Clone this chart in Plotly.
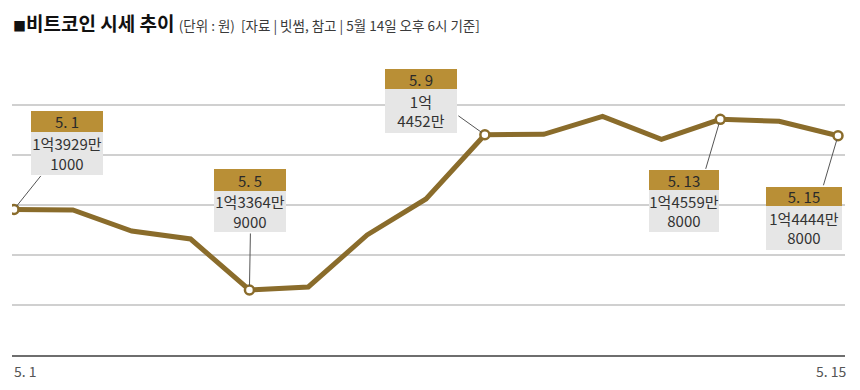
import plotly.graph_objects as go

# ---- data ----
dates = ["5. 1", "5. 2", "5. 3", "5. 4", "5. 5", "5. 6", "5. 7", "5. 8",
         "5. 9", "5. 10", "5. 11", "5. 12", "5. 13", "5. 14", "5. 15"]
prices = [139291000, 139250000, 137780000, 137220000, 133649000, 133860000,
          137500000, 140020000, 144520000, 144550000, 145800000, 144200000,
          145598000, 145460000, 144448000]
labeled = ["5. 1", "5. 5", "5. 9", "5. 13", "5. 15"]
axis_labels = ["5. 1", "5. 15"]

title = "비트코인 시세 추이"
subtitle = "(단위 : 원)  [자료 | 빗썸, 참고 | 5월 14일 오후 6시 기준]"

# ---- styles ----
LINE = "#8a6c2b"
GOLD = "#b98f36"
BODY = "#e6e6e6"
GRID = "#d0d0d0"
FONT = "Noto Sans CJK KR"

# callout geometry (pixel offsets from the point)
callout_style = {
    "5. 1":  dict(xs=53,  hy=87.5,  by=55.5, w=72, hh=21, bh=43, ax=28,  ay=-35),
    "5. 5":  dict(xs=1,   hy=110,   by=78.5, w=72, hh=22, bh=41, ax=1,   ay=-58),
    "5. 9":  dict(xs=-64, hy=56,    by=24,   w=72, hh=20, bh=44, ax=-28, ay=-20),
    "5. 13": dict(xs=-36, hy=-61,   by=-92,  w=70, hh=20, bh=42, ax=-15, ay=51),
    "5. 15": dict(xs=-34, hy=-60.5, by=-92,  w=76, hh=19, bh=44, ax=-15, ay=51),
}


def body_text(v):
    eok = v // 100000000
    man = (v % 100000000) // 10000
    rest = v % 10000
    if rest == 0:
        return f"{eok}억<br>{man}만"
    return f"{eok}억{man}만<br>{rest}"


x_idx = list(range(len(dates)))
lab_idx = [dates.index(d) for d in labeled]

fig = go.Figure()
fig.add_trace(go.Scatter(
    x=x_idx, y=prices, mode="lines",
    line=dict(color=LINE, width=5), hoverinfo="skip", showlegend=False))
fig.add_trace(go.Scatter(
    x=lab_idx, y=[prices[i] for i in lab_idx], mode="markers",
    marker=dict(size=9, color="white", line=dict(color=LINE, width=2.5)),
    hoverinfo="skip", showlegend=False))

annotations = []
for d in labeled:
    i = dates.index(d)
    v = prices[i]
    s = callout_style[d]
    annotations.append(dict(
        x=i, y=v, xref="x", yref="y", text="", showarrow=True,
        arrowhead=0, arrowwidth=1, arrowcolor="#555555",
        ax=s["ax"], ay=s["ay"], axref="pixel", ayref="pixel", standoff=4))
    annotations.append(dict(
        x=i, y=v, xref="x", yref="y", text=body_text(v), showarrow=False,
        xshift=s["xs"], yshift=s["by"], width=s["w"], height=s["bh"],
        bgcolor=BODY, borderpad=0, borderwidth=0,
        font=dict(family=FONT, size=15, color="#333333")))
    annotations.append(dict(
        x=i, y=v, xref="x", yref="y", text=d, showarrow=False,
        xshift=s["xs"], yshift=s["hy"], width=s["w"], height=s["hh"],
        bgcolor=GOLD, borderpad=0, borderwidth=0,
        font=dict(family=FONT, size=15, color="#2a2a2a")))

# title
annotations.append(dict(
    x=0, y=1 + 32 / 300, xref="paper", yref="paper",
    xanchor="left", yanchor="middle", showarrow=False, borderpad=0,
    text=(f"<span style='font-size:13px'>■</span><b>{title}</b> "
          f"<span style='font-size:13.5px;color:#3a3a3a'>{subtitle}</span>"),
    font=dict(family=FONT, size=19, color="#111111")))

# x axis end labels
annotations.append(dict(
    x=0, y=-16 / 300, xref="paper", yref="paper", xanchor="left",
    yanchor="middle", text=axis_labels[0], showarrow=False,
    font=dict(family=FONT, size=14, color="#555555")))
annotations.append(dict(
    x=1 + 4 / 833, y=-16 / 300, xref="paper", yref="paper", xanchor="right",
    yanchor="middle", text=axis_labels[1], showarrow=False,
    font=dict(family=FONT, size=14, color="#555555")))

y0 = 129096000
step = 3500000
fig.update_layout(
    width=844, height=374,
    margin=dict(l=4, r=7, t=47, b=27),
    paper_bgcolor="white", plot_bgcolor="white",
    font=dict(family=FONT),
    xaxis=dict(range=[-2 / 58.857, 14 + 7 / 58.857], showgrid=False,
               zeroline=False, showticklabels=False, ticks="",
               showline=True, linecolor="#6e6e6e", linewidth=2),
    yaxis=dict(range=[y0, y0 + 6 * step + 8000], tick0=y0, dtick=step,
               showgrid=True, gridcolor=GRID, gridwidth=1.5,
               zeroline=False, showticklabels=False, ticks=""),
    annotations=annotations,
)

fig.write_html("out.html")
